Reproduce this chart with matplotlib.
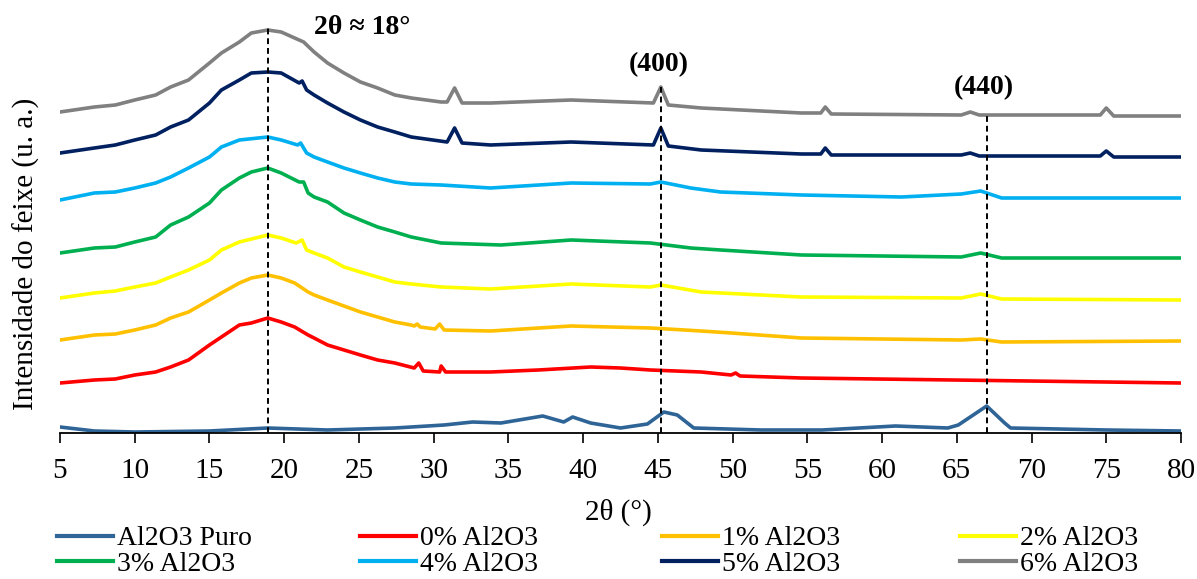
import matplotlib
matplotlib.use("Agg")
import matplotlib.pyplot as plt
from matplotlib.lines import Line2D

plt.rcParams['font.family'] = ['Liberation Serif', 'DejaVu Serif']

# --- data (2theta in degrees, intensity in a.u., offsets included)
tt_puro = [5.0, 7.3, 10.0, 15.0, 18.9, 22.9, 27.4, 30.7, 32.6, 34.5, 37.3, 38.7, 39.3, 40.5,
           42.5, 44.3, 45.4, 46.3, 47.4, 51.9, 56.0, 60.9, 64.4, 65.1, 67.0, 68.2, 68.6, 75.0, 80.0]
i_puro = [6, 2, 1, 2, 5, 3, 5, 8, 11, 10, 17, 11, 16, 10,
          5, 9, 21, 18, 5, 3, 3, 7, 5, 8, 27, 10, 5, 3, 2]

tt_0 = [5.0, 7.3, 8.7, 10.0, 11.4, 12.4, 13.6, 15.0, 15.8, 17.0, 17.8, 18.9, 19.8, 20.7, 21.6,
        22.0, 22.9, 24.0, 25.1, 26.25, 27.4, 28.7, 29.0, 29.3, 30.4, 30.5, 30.8, 33.8, 37.0,
        40.5, 42.5, 44.5, 47.9, 49.9, 50.2, 50.5, 54.6, 80.0]
i_0 = [50, 53, 54, 58, 61, 66, 73, 88, 96, 108, 110, 115, 111, 106, 98,
       95, 88, 83, 78, 73, 70, 65, 70, 62, 61, 67, 61, 61, 63,
       66, 65, 63, 61, 58, 60, 57, 55, 50]

tt_1 = [5.0, 7.3, 8.7, 10.0, 11.4, 12.4, 13.6, 15.0, 15.8, 17.0, 17.8, 18.9, 19.8, 20.7, 21.6,
        22.0, 22.9, 24.0, 25.1, 26.25, 27.4, 28.5, 28.7, 28.9, 29.1, 30.1, 30.4, 30.7, 33.8,
        39.2, 44.5, 47.9, 49.9, 54.6, 65.3, 66.6, 68.0, 80.0]
i_1 = [93, 98, 99, 103, 108, 115, 121, 133, 140, 150, 155, 158, 155, 150, 141,
       138, 133, 127, 121, 116, 111, 108, 107, 109, 106, 104, 109, 103, 102,
       107, 105, 102, 100, 95, 93, 94, 91, 92]

tt_2 = [5.0, 7.3, 8.7, 10.0, 11.4, 12.4, 13.6, 15.0, 15.8, 17.0, 18.9, 19.8, 20.8, 21.2, 21.5,
        22.0, 22.9, 24.0, 25.1, 26.25, 27.4, 28.5, 30.5, 33.8, 39.2, 44.5, 45.2, 47.9, 54.6,
        65.3, 66.6, 68.0, 80.0]
i_2 = [135, 140, 142, 146, 150, 156, 163, 173, 183, 191, 198, 195, 190, 193, 183,
       180, 175, 166, 161, 156, 151, 149, 146, 144, 149, 146, 148, 141, 136,
       135, 139, 134, 133]

tt_3 = [5.0, 7.3, 8.7, 10.0, 11.4, 12.4, 13.6, 15.0, 15.8, 17.0, 17.8, 18.9, 19.8, 21.0, 21.3,
        21.6, 22.0, 22.9, 24.0, 25.1, 26.25, 27.4, 28.5, 30.5, 34.5, 39.2, 44.5, 47.2, 49.2,
        54.6, 65.3, 66.6, 68.0, 80.0]
i_3 = [180, 185, 186, 191, 196, 208, 216, 230, 243, 255, 261, 265, 260, 251, 251,
       240, 236, 231, 220, 213, 206, 201, 196, 190, 188, 193, 190, 185, 183,
       178, 176, 180, 175, 175]

tt_4 = [5.0, 7.3, 8.7, 10.0, 11.4, 12.4, 13.6, 15.0, 15.8, 17.0, 18.9, 19.8, 20.9, 21.1, 21.5,
        22.0, 22.9, 24.0, 25.1, 26.25, 27.4, 28.5, 30.5, 33.8, 39.2, 44.5, 45.2, 47.2, 49.2,
        54.6, 61.3, 65.3, 66.6, 68.0, 80.0]
i_4 = [233, 240, 241, 245, 250, 256, 265, 276, 286, 293, 296, 293, 288, 290, 280,
       276, 271, 265, 260, 255, 251, 249, 248, 245, 250, 249, 251, 245, 241,
       238, 236, 239, 242, 235, 235]

tt_5 = [5.0, 7.3, 8.7, 10.0, 11.4, 12.4, 13.6, 15.0, 15.8, 17.0, 17.8, 18.9, 19.8, 21.0, 21.2,
        21.5, 22.0, 22.9, 24.0, 25.1, 26.25, 27.4, 28.5, 30.9, 31.4, 31.9, 33.8, 39.2, 44.7,
        45.2, 45.7, 47.9, 54.6, 55.9, 56.2, 56.6, 65.3, 65.9, 66.5, 74.6, 75.0, 75.5, 80.0]
i_5 = [280, 285, 288, 293, 298, 306, 313, 330, 343, 353, 360, 361, 360, 350, 352,
       343, 338, 330, 321, 313, 306, 301, 296, 291, 305, 290, 288, 291, 288,
       305, 287, 283, 279, 279, 285, 278, 278, 280, 277, 277, 282, 276, 276]

tt_6 = [5.0, 7.3, 8.7, 10.0, 11.4, 12.4, 13.6, 15.0, 15.8, 17.0, 17.8, 18.9, 19.8, 21.3, 22.0,
        22.9, 24.0, 25.1, 26.25, 27.4, 28.5, 30.5, 30.9, 31.4, 31.9, 33.8, 39.2, 44.7, 45.2,
        45.7, 47.9, 54.6, 55.9, 56.2, 56.6, 65.3, 65.9, 66.5, 74.6, 75.0, 75.5, 80.0]
i_6 = [321, 326, 328, 333, 338, 346, 353, 370, 380, 391, 400, 403, 401, 391, 381,
       370, 360, 351, 345, 338, 335, 331, 331, 345, 330, 330, 333, 330, 346,
       328, 325, 320, 320, 326, 319, 318, 321, 318, 318, 325, 317, 317]

labels = ['Al2O3 Puro', '0% Al2O3', '1% Al2O3', '2% Al2O3',
          '3% Al2O3', '4% Al2O3', '5% Al2O3', '6% Al2O3']
colors = ['#2E6496', '#FF0000', '#FFC000', '#FFFF00',
          '#00B050', '#00B0F0', '#002060', '#808080']

peak_pos = [18.9, 45.2, 67.0]
peak_top = [405, 346, 320]
peak_txt = ['2θ ≈ 18°', '(400)', '(440)']

xs = [tt_puro, tt_0, tt_1, tt_2, tt_3, tt_4, tt_5, tt_6]
ys = [i_puro, i_0, i_1, i_2, i_3, i_4, i_5, i_6]

fig = plt.figure(figsize=(11.97, 5.79), dpi=100)
ax = fig.add_axes([60 / 1197, 146 / 579, 1121 / 1197, 433 / 579])

for x, y, c in zip(xs, ys, colors):
    ax.plot(x, y, color=c, lw=2.6, solid_joinstyle='round')

# dashed guide lines + labels
ax.vlines(peak_pos, 0, peak_top, colors='black', linestyles=(0, (3, 2)), lw=1.4, zorder=5)
txt_pos = [(25.2, 405), (45.05, 368), (66.8, 345)]
for (tx, ty), s in zip(txt_pos, peak_txt):
    ax.text(tx, ty, s, ha='center', va='center', fontsize=20, fontweight='bold')

ax.set_xlim(5, 80)
ax.set_ylim(0, 433)
ax.set_xticks(range(5, 81, 5))
ax.set_yticks([])
for s in ['left', 'right', 'top']:
    ax.spines[s].set_visible(False)
ax.spines['bottom'].set_linewidth(1.3)
ax.tick_params(axis='x', direction='out', length=7, width=1.2, labelsize=21, pad=11)
ax.set_facecolor('none')

fig.text(618 / 1197, 1 - 512 / 579, '2θ (°)', ha='center', va='center', fontsize=21)
fig.text(26 / 1197, 1 - 254 / 579, 'Intensidade do feixe (u. a.)', rotation=90,
         ha='center', va='center', fontsize=21)

# legend: 4 columns x 2 rows, equal-width columns like the original
handles = [Line2D([], [], color=c, lw=3) for c in colors]
col_x = [57, 360, 662, 960]
for k, cx in enumerate(col_x):
    fig.legend([handles[k], handles[k + 4]], [labels[k], labels[k + 4]],
               loc='upper left', bbox_to_anchor=(cx / 1197, 1 - 526 / 579),
               frameon=False, fontsize=20, borderpad=0, borderaxespad=0,
               handlelength=2.0, handletextpad=0.15, labelspacing=0.0)

fig.savefig('out.png', dpi=100)
